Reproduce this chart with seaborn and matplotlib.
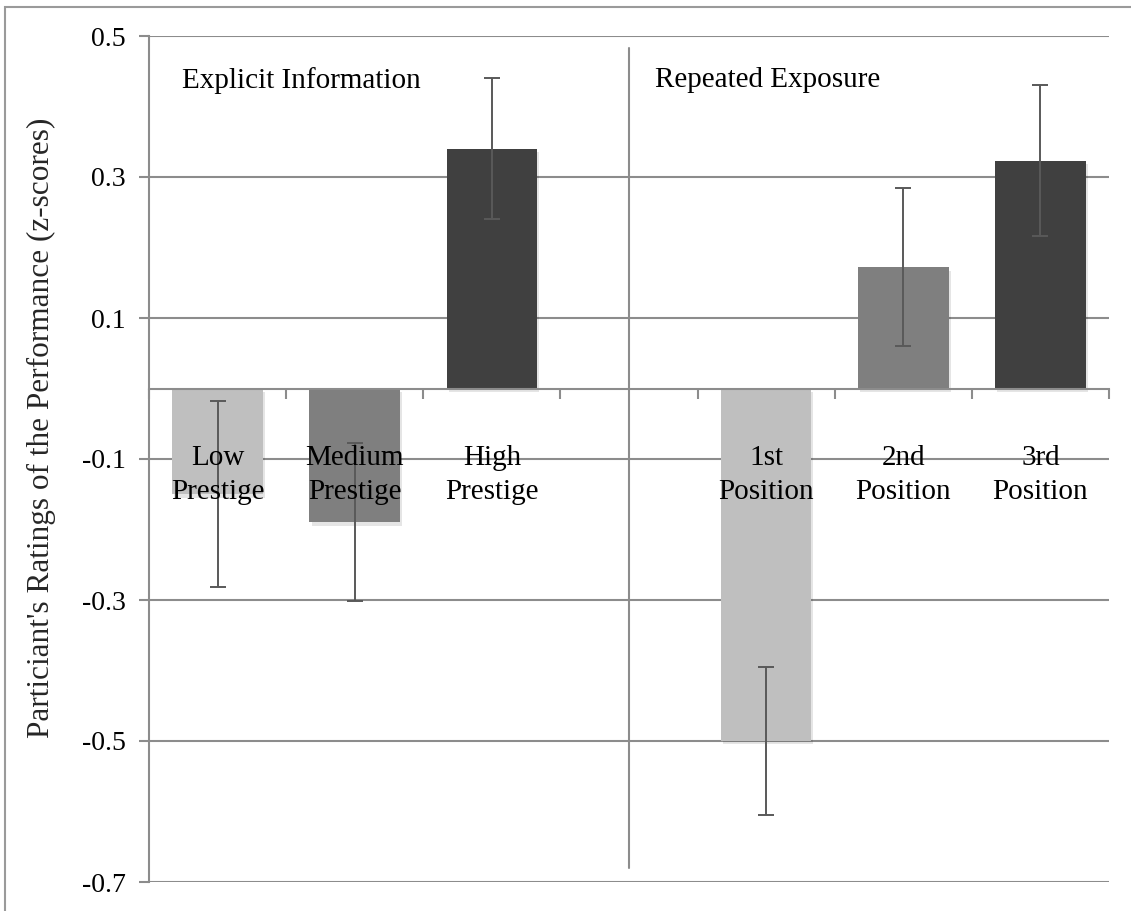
import numpy as np
import pandas as pd
import matplotlib
matplotlib.use("Agg")
import matplotlib.pyplot as plt
import matplotlib.patheffects as pe
from matplotlib.patches import Rectangle
import seaborn as sns

# Condition labels (the fourth slot is an empty spacer between the two studies)
categories = ["Low\nPrestige", "Medium\nPrestige", "High\nPrestige", " ",
              "1st\nPosition", "2nd\nPosition", "3rd\nPosition"]
conditions = ["Low\nPrestige", "Medium\nPrestige", "High\nPrestige",
              "1st\nPosition", "2nd\nPosition", "3rd\nPosition"]
means = [-0.15, -0.19, 0.34, -0.50, 0.172, 0.323]
errors = [0.132, 0.112, 0.10, 0.105, 0.112, 0.107]
bar_colors = ["#BFBFBF", "#7F7F7F", "#404040", "#BFBFBF", "#7F7F7F", "#404040"]
section_titles = ["Explicit Information", "Repeated Exposure"]
y_ticks = [-0.7, -0.5, -0.3, -0.1, 0.1, 0.3, 0.5]

sns.set_theme(style="white")
plt.rcParams["font.family"] = ["Liberation Serif", "DejaVu Serif"]

df = pd.DataFrame({"condition": conditions, "rating": means})

fig = plt.figure(figsize=(11.31, 9.11), dpi=100)
W, H = 1131, 911
ax = fig.add_axes([149 / W, (H - 882) / H, (1109 - 149) / W, (882 - 36) / H])

grid_col = "#8C8C8C"
for y in y_ticks:
    ax.axhline(y, color=grid_col, lw=1.5, zorder=0)

sns.barplot(data=df, x="condition", y="rating", order=categories,
            hue="condition", hue_order=conditions, palette=bar_colors,
            width=0.66, errorbar=None, legend=False, ax=ax, zorder=2,
            saturation=1)

for p in ax.patches:
    p.set_edgecolor("none")
    p.set_path_effects([pe.SimplePatchShadow(offset=(1.5, -2.5), alpha=0.1,
                                             shadow_rgbFace="#000000"),
                        pe.Normal()])

xpos = [categories.index(c) for c in conditions]
ax.errorbar(xpos, means, yerr=errors, fmt="none", ecolor="#595959",
            elinewidth=1.4, capsize=6, capthick=1.4, zorder=4)

# divider between the two studies
ax.plot([3, 3], [-0.68, 0.483], color=grid_col, lw=1.5, zorder=1)

ax.set_xlim(-0.5, 6.5)
ax.set_ylim(-0.7, 0.5)
ax.set_yticks(y_ticks)
ax.set_yticklabels([f"{v:.1f}" for v in y_ticks], fontsize=20)
ax.set_xlabel("")
ax.set_ylabel("Particiant's Ratings of the Performance (z-scores)",
              fontsize=22.5)
ax.yaxis.set_label_coords(-0.097, 0.537)

for s in ["top", "right"]:
    ax.spines[s].set_visible(False)
ax.spines["left"].set_color(grid_col)
ax.spines["left"].set_linewidth(1.5)
ax.spines["bottom"].set_position(("data", 0))
ax.spines["bottom"].set_color(grid_col)
ax.spines["bottom"].set_linewidth(1.5)
ax.spines["bottom"].set_zorder(3)

ax.set_xticks(np.arange(-0.5, 7.0, 1.0))
ax.set_xticklabels([])
ax.tick_params(axis="x", which="major", bottom=True, direction="out",
               length=7, color=grid_col, width=1.5)
ax.tick_params(axis="y", left=True, direction="out", length=7,
               color=grid_col, width=1.5, pad=10, labelcolor="black")

for i, c in enumerate(categories):
    if c.strip():
        ax.text(i, -0.080, c, ha="center", va="top", fontsize=21,
                linespacing=1.4, zorder=5, color="black")

ax.text(-0.26, 0.437, section_titles[0], fontsize=21, va="center", ha="left",
        color="black")
ax.text(3.19, 0.437, section_titles[1], fontsize=21, va="center", ha="left",
        color="black")

# outer chart frame
fig.patches.append(Rectangle((5 / W, -0.05), 1.2, (H - 7) / H + 0.05,
                             transform=fig.transFigure, fill=False,
                             edgecolor="#9A9A9A", lw=1.5))

fig.savefig("out.png", dpi=100, facecolor="white")
